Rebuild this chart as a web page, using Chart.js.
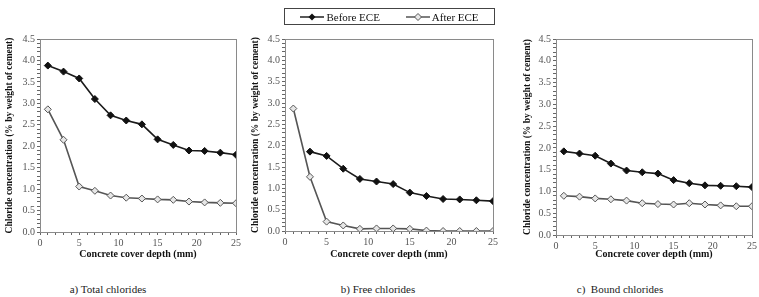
<!DOCTYPE html>
<html>
<head>
<meta charset="utf-8">
<script src="https://cdn.jsdelivr.net/npm/chart.js@4.4.1/dist/chart.umd.min.js"></script>
<style>
  body { margin: 0; background: #fff; }
  #wrap { position: relative; width: 759px; height: 297px; overflow: hidden; font-family: 'Liberation Serif', 'Times New Roman', serif; }
  canvas { position: absolute; top: 0; }
  .cap { position: absolute; top: 283px; font-size: 11px; color: #222; transform: translateX(-50%); white-space: pre; }
  #legend { position: absolute; left: 284px; top: 8px; width: 209px; height: 15px; border: 1px solid #444;
            font-size: 11px; color: #111; display: flex; align-items: center; justify-content: center; gap: 26px; }
  #legend span { display: flex; align-items: center; }
  #legend svg { margin-right: 2px; }
</style>
</head>
<body>
<div id="wrap">
  <canvas id="chartA" width="250" height="265" style="left:0px"></canvas>
  <canvas id="chartB" width="250" height="265" style="left:250px"></canvas>
  <canvas id="chartC" width="259" height="265" style="left:500px"></canvas>
  <div id="legend">
    <span><svg width="24" height="8"><line x1="0" y1="4" x2="24" y2="4" stroke="#222" stroke-width="1.5"/><polygon points="12,0.5 15.5,4 12,7.5 8.5,4" fill="#111"/></svg>Before ECE</span>
    <span><svg width="24" height="8"><line x1="0" y1="4" x2="24" y2="4" stroke="#555" stroke-width="1.5"/><polygon points="12,0.5 15.5,4 12,7.5 8.5,4" fill="#e8e8e8" stroke="#555" stroke-width="1"/></svg>After ECE</span>
  </div>
  <div class="cap" style="left:108px">a) Total chlorides</div>
  <div class="cap" style="left:378px">b) Free chlorides</div>
  <div class="cap" style="left:620px">c)  Bound chlorides</div>
</div>
<script>
const depth = [1, 3, 5, 7, 9, 11, 13, 15, 17, 19, 21, 23, 25];

const totalBefore = [3.88, 3.74, 3.58, 3.10, 2.72, 2.60, 2.51, 2.16, 2.03, 1.90, 1.89, 1.85, 1.80];
const totalAfter  = [2.86, 2.15, 1.06, 0.96, 0.85, 0.80, 0.78, 0.76, 0.75, 0.71, 0.69, 0.68, 0.67];

const freeBefore = [null, 1.86, 1.76, 1.46, 1.22, 1.16, 1.10, 0.90, 0.82, 0.75, 0.74, 0.72, 0.70];
const freeAfter  = [2.87, 1.27, 0.22, 0.13, 0.05, 0.06, 0.06, 0.05, 0.01, 0.00, 0.00, 0.00, 0.00];

const boundBefore = [1.92, 1.87, 1.82, 1.64, 1.48, 1.44, 1.41, 1.26, 1.19, 1.14, 1.13, 1.12, 1.10];
const boundAfter  = [0.90, 0.88, 0.84, 0.82, 0.79, 0.73, 0.71, 0.70, 0.73, 0.70, 0.68, 0.66, 0.66];

const seriesNames = ['Before ECE', 'After ECE'];
const xTitle = 'Concrete cover depth (mm)';
const yTitle = 'Chloride concentration (% by weight of cement)';

const serif = "'Liberation Serif', 'Times New Roman', serif";

function points(vals) {
    return depth.map((d, i) => ({ x: d, y: vals[i] })).filter(p => p.y !== null);
}

// gray frame round the plot area
const frame = {
    id: 'frame',
    afterDraw(chart) {
        const a = chart.chartArea, ctx = chart.ctx;
        ctx.save();
        ctx.strokeStyle = '#8a8a8a';
        ctx.lineWidth = 1;
        ctx.strokeRect(Math.round(a.left) + 0.5, Math.round(a.top) + 0.5,
                       Math.round(a.right - a.left), Math.round(a.bottom - a.top));
        ctx.restore();
    }
};

function makeChart(id, before, after, lay) {
    const ctx = document.getElementById(id).getContext('2d');
    return new Chart(ctx, {
        type: 'line',
        data: {
            datasets: [
                {
                    label: seriesNames[0],
                    data: points(before),
                    borderColor: '#1a1a1a',
                    borderWidth: 1.6,
                    pointStyle: 'rectRot',
                    pointRadius: 3.5,
                    pointBackgroundColor: '#111',
                    pointBorderColor: '#111',
                    pointBorderWidth: 1,
                    tension: 0
                },
                {
                    label: seriesNames[1],
                    data: points(after),
                    borderColor: '#555',
                    borderWidth: 1.6,
                    pointStyle: 'rectRot',
                    pointRadius: 3.5,
                    pointBackgroundColor: '#e6e6e6',
                    pointBorderColor: '#555',
                    pointBorderWidth: 1,
                    tension: 0
                }
            ]
        },
        options: {
            responsive: false,
            animation: false,
            events: [],
            layout: { padding: { left: lay.padLeft, right: lay.padRight, top: 39, bottom: 0 } },
            plugins: {
                legend: { display: false },
                tooltip: { enabled: false }
            },
            scales: {
                x: {
                    type: 'linear',
                    min: 0,
                    max: 25,
                    afterFit: (s) => { s.height = lay.xHeight; },
                    ticks: {
                        stepSize: 1,
                        autoSkip: false,
                        maxRotation: 0,
                        padding: 2,
                        color: '#555',
                        font: { family: serif, size: 10 },
                        callback: (v) => (v % 5 === 0 ? String(v) : '')
                    },
                    grid: { drawOnChartArea: false, tickLength: 3, color: '#666' },
                    border: { color: '#8a8a8a' },
                    title: {
                        display: true,
                        text: xTitle,
                        color: '#111',
                        padding: { top: 0, bottom: 5 },
                        font: { family: serif, size: 10, weight: 'bold' }
                    }
                },
                y: {
                    min: 0,
                    max: 4.5,
                    afterFit: (s) => { s.width = lay.yWidth; },
                    ticks: {
                        stepSize: 0.1,
                        autoSkip: false,
                        padding: 2,
                        color: '#555',
                        font: { family: serif, size: 10 },
                        callback: (v) => {
                            const h = Math.round(v * 10);
                            return h % 5 === 0 ? (h / 10).toFixed(1) : '';
                        }
                    },
                    grid: { drawOnChartArea: false, tickLength: 3, color: '#666' },
                    border: { color: '#8a8a8a' },
                    title: {
                        display: true,
                        text: yTitle,
                        color: '#111',
                        padding: { top: lay.yTitlePad, bottom: 0 },
                        font: { family: serif, size: 9.5, weight: 'bold' }
                    }
                }
            }
        },
        plugins: [frame]
    });
}

makeChart('chartA', totalBefore, totalAfter, { padLeft: 0, padRight: 14, xHeight: 33, yWidth: 40, yTitlePad: 4 });
makeChart('chartB', freeBefore, freeAfter, { padLeft: 0, padRight: 7, xHeight: 34, yWidth: 35, yTitlePad: 0 });
makeChart('chartC', boundBefore, boundAfter, { padLeft: 22, padRight: 7, xHeight: 30, yWidth: 34, yTitlePad: 0 });
</script>
</body>
</html>
